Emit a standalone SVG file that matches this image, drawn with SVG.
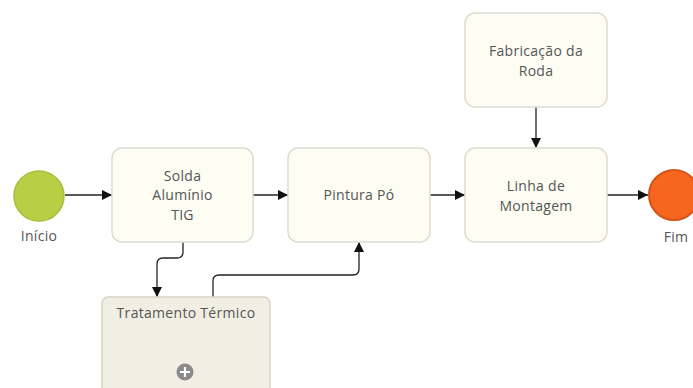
<svg xmlns="http://www.w3.org/2000/svg" width="693" height="388" viewBox="0 0 693 388">
<style>
.task{fill:#fdfdf4;stroke:#dddcd2;stroke-width:1.5}
.sub{fill:#f1efe4;stroke:#d6d4c8;stroke-width:1.5}
.lbl{font-family:"Open Sans",Lato,sans-serif;font-size:14px;letter-spacing:0.3px;fill:#555;text-anchor:middle}
.con{fill:none;stroke:#222;stroke-width:1.3}
</style>
<defs>
<marker id="ah" viewBox="0 0 10 10" refX="10" refY="5" markerWidth="10" markerHeight="10" markerUnits="userSpaceOnUse" orient="auto">
<path d="M0,0 L10,5 L0,10 Z" fill="#111"/>
</marker>
</defs>
<rect width="693" height="388" fill="#fff"/>
<g id="connectors">
<path class="con" d="M65,195 H112" marker-end="url(#ah)"/>
<path class="con" d="M253,195 H288" marker-end="url(#ah)"/>
<path class="con" d="M430,195 H465" marker-end="url(#ah)"/>
<path class="con" d="M607,195 H648" marker-end="url(#ah)"/>
<path class="con" d="M536,107 V148" marker-end="url(#ah)"/>
<path class="con" d="M183,242 V252 Q183,258 177,258 H163 Q157,258 157,264 V297" marker-end="url(#ah)"/>
<path class="con" d="M213,297 V281 Q213,275 219,275 H353 Q359,275 359,269 V242" marker-end="url(#ah)"/>
</g>
<g id="inicio">
<circle cx="39" cy="196" r="25" fill="#b8cf45" stroke="#a7bd3c" stroke-width="1.5"/>
<text class="lbl" x="39" y="241">Início</text>
</g>
<g id="solda">
<rect class="task" x="112" y="148" width="141" height="94" rx="10"/>
<text class="lbl" x="182.5" y="180.5">Solda</text>
<text class="lbl" x="182.5" y="200">Alumínio</text>
<text class="lbl" x="182.5" y="219.5">TIG</text>
</g>
<g id="pintura">
<rect class="task" x="288" y="148" width="142" height="94" rx="10"/>
<text class="lbl" x="359" y="200">Pintura Pó</text>
</g>
<g id="fabricacao">
<rect class="task" x="465" y="13" width="142" height="94" rx="10"/>
<text class="lbl" x="536" y="56">Fabricação da</text>
<text class="lbl" x="536" y="75.5">Roda</text>
</g>
<g id="linha">
<rect class="task" x="465" y="148" width="142" height="94" rx="10"/>
<text class="lbl" x="536" y="191">Linha de</text>
<text class="lbl" x="536" y="210.5">Montagem</text>
</g>
<g id="fim">
<circle cx="674" cy="195" r="25" fill="#f7661e" stroke="#d4541a" stroke-width="2"/>
<text class="lbl" x="676" y="242">Fim</text>
</g>
<g id="tratamento">
<rect class="sub" x="102" y="297" width="168" height="110" rx="6"/>
<text class="lbl" x="186" y="318">Tratamento Térmico</text>
<circle cx="185" cy="372" r="8.5" fill="#8a8a8a"/>
<path d="M180,372 H190 M185,367 V377" stroke="#fff" stroke-width="2.2"/>
</g>
</svg>
